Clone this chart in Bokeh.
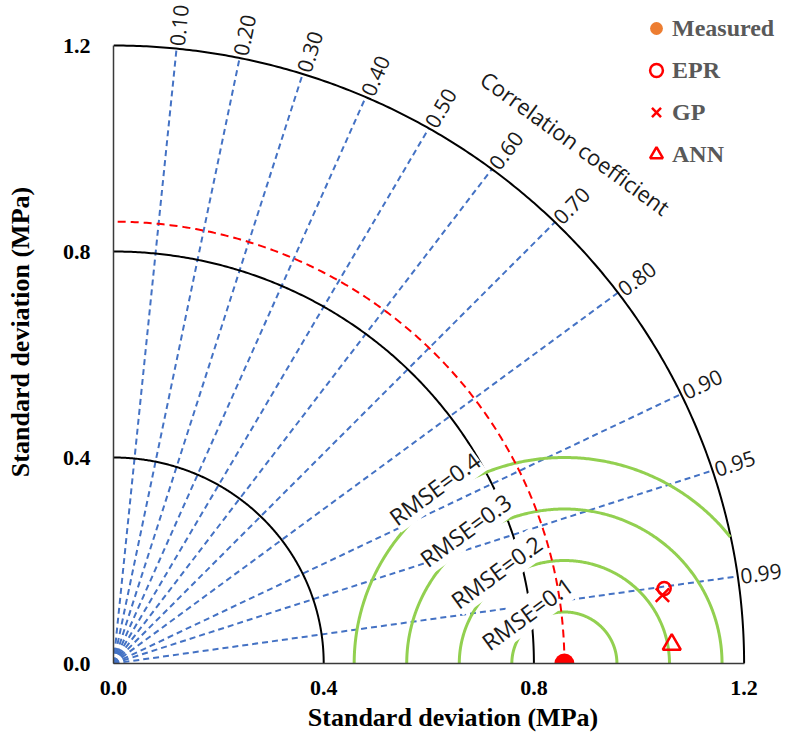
import numpy as np
from bokeh.plotting import figure
from bokeh.models import (Range1d, FixedTicker, PrintfTickFormatter, LinearAxis,
                          Legend, LegendItem)
from bokeh.core.properties import value
from bokeh.embed import file_html
from bokeh.resources import INLINE

# ---- model statistics (standard deviation in MPa, correlation with measured) ----
names = ["Measured", "EPR", "GP", "ANN"]
std_dev = [0.858, 1.058, 1.053, 1.063]
corr = [1.0, 0.9905, 0.9920, 0.9994]

# ---- diagram grid ----
std_rings = [0.4, 0.8, 1.2]
axis_ticks = [0.0, 0.4, 0.8, 1.2]
corr_ticks = [0.10, 0.20, 0.30, 0.40, 0.50, 0.60, 0.70, 0.80, 0.90, 0.95, 0.99]
corr_tick_labels = ["0.10", "0.20", "0.30", "0.40", "0.50", "0.60", "0.70",
                    "0.80", "0.90", "0.95", "0.99"]
rmse_levels = [0.1, 0.2, 0.3, 0.4]
rmse_labels = ["RMSE=0.1", "RMSE=0.2", "RMSE=0.3", "RMSE=0.4"]

SD_MAX = 1.2
ref_sd = std_dev[0]

SERIF = "Liberation Serif"
SANS = "Open Sans"
BLUE = "#4472C4"
GREEN = "#92D050"
RED = "#FF0000"

std_arr = np.array(std_dev)
corr_arr = np.array(corr)
px = std_arr * corr_arr
py = std_arr * np.sqrt(np.clip(1 - corr_arr ** 2, 0, None))

p = figure(width=792, height=737,
           x_range=Range1d(0, 1.2921), y_range=Range1d(0, 1.2874),
           output_backend="svg", toolbar_location=None,
           min_border_left=113, min_border_bottom=74,
           min_border_top=0, min_border_right=0)
p.grid.visible = False
p.outline_line_color = None
p.background_fill_color = "white"
p.border_fill_color = "white"

# ---- axes ----
for ax in (p.xaxis[0], p.yaxis[0]):
    ax.bounds = (0, SD_MAX)
    ax.ticker = FixedTicker(ticks=axis_ticks)
    ax.formatter = PrintfTickFormatter(format="%.1f")
    ax.major_tick_in = 0
    ax.major_tick_out = 0
    ax.major_tick_line_color = None
    ax.minor_tick_line_color = None
    ax.axis_line_color = "#3a3a3a"
    ax.axis_line_width = 1.5
    ax.major_label_text_font = SERIF
    ax.major_label_text_font_style = "bold"
    ax.major_label_text_font_size = "22px"
    ax.major_label_text_color = "black"

p.xaxis[0].major_label_standoff = 17
p.yaxis[0].major_label_standoff = 23
p.yaxis[0].axis_label = "Standard deviation (MPa)"
p.yaxis[0].axis_label_standoff = 25
p.yaxis[0].axis_label_text_font = SERIF
p.yaxis[0].axis_label_text_font_style = "bold"
p.yaxis[0].axis_label_text_font_size = "26px"
p.yaxis[0].axis_label_text_color = "black"

# title-only axis under the tick labels
title_axis = LinearAxis(axis_label="Standard deviation (MPa)", bounds=(0.1, 1.284),
                        ticker=FixedTicker(ticks=[]),
                        axis_line_color=None, major_tick_line_color=None,
                        minor_tick_line_color=None, major_tick_in=0, major_tick_out=0,
                        major_label_standoff=0, axis_label_standoff=5,
                        axis_label_text_font=SERIF, axis_label_text_font_style="bold",
                        axis_label_text_font_size="26px", axis_label_text_color="black")
p.add_layout(title_axis, "below")

# ---- correlation rays ----
theta_c = np.arccos(np.array(corr_ticks))
ray_xs = [[0, SD_MAX * np.cos(t)] for t in theta_c]
ray_ys = [[0, SD_MAX * np.sin(t)] for t in theta_c]
p.multi_line(ray_xs, ray_ys, line_color=BLUE, line_width=2, line_dash="6 4")

# ---- standard deviation rings ----
phi = np.linspace(0, np.pi / 2, 300)
ring_xs = [list(r * np.cos(phi)) for r in std_rings]
ring_ys = [list(r * np.sin(phi)) for r in std_rings]
p.multi_line(ring_xs, ring_ys, line_color="black", line_width=2)

# ---- RMSE contours around the measured point ----
psi = np.linspace(0, np.pi, 400)
rm_xs, rm_ys = [], []
for r in rmse_levels:
    cx = ref_sd + r * np.cos(psi)
    cy = r * np.sin(psi)
    inside = np.hypot(cx, cy) <= SD_MAX
    rm_xs.append(list(cx[inside]))
    rm_ys.append(list(cy[inside]))
p.multi_line(rm_xs, rm_ys, line_color=GREEN, line_width=3)

# RMSE labels sit on their contours
lab_ang = np.deg2rad(126)
rmse_arr = np.array(rmse_levels)
lab_x = ref_sd + (rmse_arr + 0.02) * np.cos(lab_ang)
lab_y = (rmse_arr + 0.02) * np.sin(lab_ang)
p.text(x=list(lab_x), y=list(lab_y), text=rmse_labels,
       angle=float(lab_ang - np.pi / 2), angle_units="rad",
       text_align="center", text_baseline="middle",
       text_font=value(SANS), text_font_size="23px", text_color="#1a1a1a",
       background_fill_color="white", padding=0)

# ---- reference standard deviation arc ----
p.line(list(ref_sd * np.cos(phi)), list(ref_sd * np.sin(phi)),
       line_color=RED, line_width=2, line_dash="8 5")

# ---- correlation tick labels ----
lab_r = SD_MAX + 0.005
p.text(x=list(lab_r * np.cos(theta_c)), y=list(lab_r * np.sin(theta_c)),
       text=corr_tick_labels, angle=list(theta_c), angle_units="rad",
       text_align="left", text_baseline="middle",
       text_font=value(SANS), text_font_size="21px", text_color="#1a1a1a")

cc_r, cc_t = 1.34, np.deg2rad(49)
p.text(x=[cc_r * np.cos(cc_t)], y=[cc_r * np.sin(cc_t)],
       text=["Correlation coefficient"], angle=-36, angle_units="deg",
       text_align="center", text_baseline="middle",
       text_font=value(SANS), text_font_size="22px", text_color="#1a1a1a")

# ---- model points ----
p.scatter(x=[px[0]], y=[py[0]], marker="circle", size=20,
          fill_color=RED, line_color=None)
r_epr = p.scatter(x=[px[1]], y=[py[1]], marker="circle", size=13,
                  fill_color=None, line_color=RED, line_width=2.5)
r_gp = p.scatter(x=[px[2]], y=[py[2]], marker="x", size=19,
                 line_color=RED, line_width=2.5)
r_ann = p.scatter(x=[px[3]], y=[py[3]], marker="triangle", size=18,
                  fill_color=None, line_color=RED, line_width=2.5)
# legend swatch for the measured data (hidden renderer, shown only in the legend)
r_meas = p.scatter(x=[px[0]], y=[py[0]], marker="circle", size=14,
                   fill_color="#ED7D31", line_color=None, visible=False)

legend = Legend(items=[LegendItem(label=names[0], renderers=[r_meas]),
                       LegendItem(label=names[1], renderers=[r_epr]),
                       LegendItem(label=names[2], renderers=[r_gp]),
                       LegendItem(label=names[3], renderers=[r_ann])],
                location=(527, 488), orientation="vertical",
                glyph_width=32, glyph_height=42, label_height=42,
                label_standoff=0, spacing=0, padding=0, margin=0,
                border_line_color=None, background_fill_alpha=0,
                click_policy="none",
                label_text_font=SERIF, label_text_font_style="bold",
                label_text_font_size="24px", label_text_color="#595959")
p.add_layout(legend)

open("out.html", "w").write(file_html(p, INLINE))
